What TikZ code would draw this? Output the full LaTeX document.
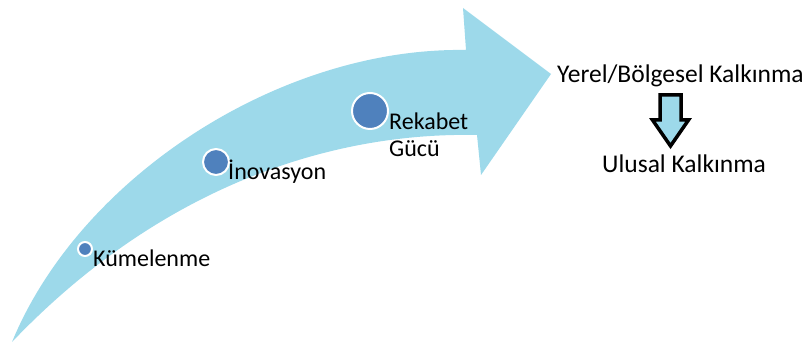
\documentclass[tikz,border=0pt]{standalone}
\usepackage{fontspec}
\setmainfont{Carlito}
\usetikzlibrary{positioning}
\definecolor{okmavi}{RGB}{157,217,234}
\definecolor{topmavi}{RGB}{79,129,189}
\tikzset{
  etiket/.style={inner sep=0pt, anchor=base west},
  sagetiket/.style={etiket, font=\fontsize{25.5}{30}\selectfont},
  nokta/.style={circle, fill=topmavi, draw=white, line width=2pt, inner sep=0pt}
}
\begin{document}
\begin{tikzpicture}[x=1pt, y=1pt, font=\fontsize{24}{27}\selectfont, line join=round, line cap=round]
	\useasboundingbox (0,0) rectangle (810,347);
	% büyük eğri ok
	\fill[okmavi] (12,5) .. controls (80,170) and (280,300) .. (466,297)
		-- (463,339) -- (551,273) -- (481,172) -- (477,212)
		.. controls (330,215) and (160,160) .. (12,5) -- cycle;
	% noktalar
	\node[nokta, minimum size=14pt] (kume) at (85,98) {};
	\node[nokta, minimum size=26pt] (inov) at (216,185) {};
	\node[nokta, minimum size=36pt] (rek) at (370,236) {};
	% etiketler
	\node[etiket] (kumet) at (93,80) {Kümelenme};
	\node[etiket] (inovt) at (228,167) {İnovasyon};
	\node[etiket, align=left] (rekt) at (389,190) {Rekabet\\Gücü};
	\node[sagetiket] (yerel) at (557,264) {Yerel/Bölgesel Kalkınma};
	\node[sagetiket] (ulusal) at (602,174) {Ulusal Kalkınma};
	% aşağı ok
	\coordinate (ust) at (670.5,252);
	\draw[line width=3.5pt, fill=okmavi, line join=miter]
		([xshift=-10.5pt]ust) -- ([xshift=10.5pt]ust) -- ++(0,-25) -- ++(7.5,0)
		-- ([yshift=-51pt]ust) -- ([shift={(-18pt,-25pt)}]ust) -- ++(7.5,0) -- cycle;
\end{tikzpicture}
\end{document}
